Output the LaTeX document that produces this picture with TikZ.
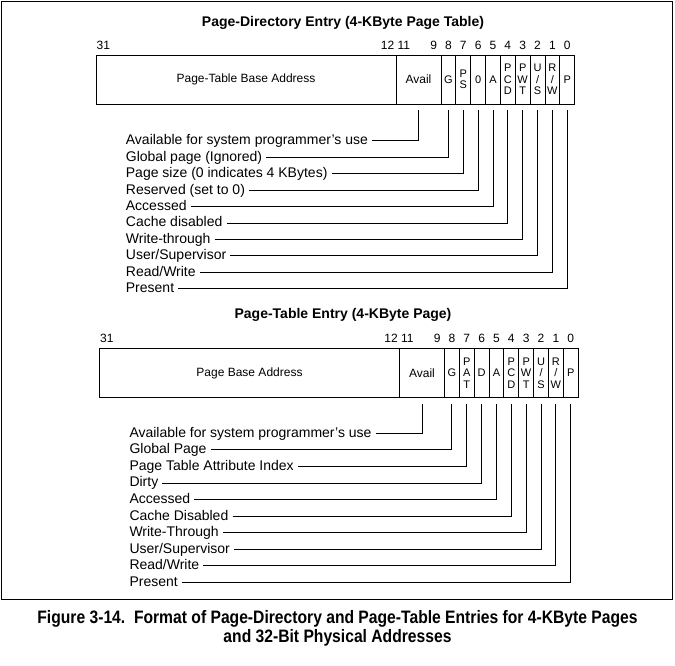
\documentclass[tikz,border=0pt]{standalone}
\usepackage{fontspec}
\setmainfont{Liberation Sans}
\newfontfamily\capfont[FakeStretch=0.87]{Liberation Sans}
\usetikzlibrary{positioning,calc}

\begin{document}
\begin{tikzpicture}[
    x=1pt, y=-1pt,
    field/.style={draw, line width=0.9pt, minimum height=49pt, outer sep=0pt, inner sep=0.5pt, align=center, font=\fontsize{12}{12}\selectfont},
    bitbox/.style={field, minimum width=14.85pt, font=\fontsize{11}{11.5}\selectfont},
    bitnum/.style={anchor=base, inner sep=0.5pt, font=\fontsize{12}{12}\selectfont},
    labl/.style={anchor=west, inner xsep=4pt, inner ysep=0pt, text height=10pt, text depth=2pt, font=\fontsize{14}{14}\selectfont},
    leader/.style={line width=0.9pt},
    title/.style={font=\fontsize{14}{14}\selectfont\bfseries},
    caption/.style={align=center, font=\capfont\fontsize{18}{19}\selectfont\bfseries}
]
\useasboundingbox (0,0) rectangle (675,665);

% Outer frame
\draw[line width=1.2pt] (1.5,1.5) rectangle (672.5,599.5);

% Page-directory entry
\node[title] (pde-title) at (343,23) {Page-Directory Entry (4-KByte Page Table)};
\node[field, minimum width=300pt, anchor=north west] (pde-base) at (96,55) {Page-Table Base Address};
\node[field, minimum width=45pt, right=0pt of pde-base] (pde-avail) {Avail};
\foreach \n/\t [remember=\n as \prev (initially avail)] in {g/G, ps/{P\\S}, z/0, a/A, pcd/{P\\C\\D}, pwt/{P\\W\\T}, us/{U\\/\\S}, rw/{R\\/\\W}, p/P}
    \node[bitbox, right=0pt of pde-\prev] (pde-\n) {\t};

% Bit numbers
\node[bitnum, anchor=base west] (pde-b31) at ([yshift=6pt]pde-base.north west) {31};
\node[bitnum, anchor=base east] (pde-b12) at ([yshift=6pt, xshift=-1pt]pde-base.north east) {12};
\node[bitnum, anchor=base west] (pde-b11) at ([yshift=6pt, xshift=1pt]pde-avail.north west) {11};
\node[bitnum] (pde-b9) at ([yshift=6pt, xshift=-7.4pt]pde-avail.north east) {9};
\foreach \n/\b in {g/8, ps/7, z/6, a/5, pcd/4, pwt/3, us/2, rw/1, p/0}
    \node[bitnum] (pde-b\b) at ([yshift=6pt]pde-\n.north) {\b};

% Field descriptions
\foreach \n/\t [count=\i from 0] in {avail/{Available for system programmer’s use}, g/{Global page (Ignored)}, ps/{Page size (0 indicates 4 KBytes)}, z/{Reserved (set to 0)}, a/Accessed, pcd/{Cache disabled}, pwt/Write-through, us/{User/Supervisor}, rw/{Read/Write}, p/Present} {
    \node[labl] (pde-l\n) at (121.7, {140.7+16.45*\i}) {\t};
    \draw[leader] (pde-l\n.east) -| ([yshift=-6pt]pde-\n.south);
}

% Page-table entry
\node[title] (pte-title) at (343,315) {Page-Table Entry (4-KByte Page)};
\node[field, minimum width=300pt, anchor=north west] (pte-base) at (99.5,348.5) {Page Base Address};
\node[field, minimum width=45pt, right=0pt of pte-base] (pte-avail) {Avail};
\foreach \n/\t [remember=\n as \prev (initially avail)] in {g/G, pat/{P\\A\\T}, d/D, a/A, pcd/{P\\C\\D}, pwt/{P\\W\\T}, us/{U\\/\\S}, rw/{R\\/\\W}, p/P}
    \node[bitbox, right=0pt of pte-\prev] (pte-\n) {\t};

% Bit numbers
\node[bitnum, anchor=base west] (pte-b31) at ([yshift=6pt]pte-base.north west) {31};
\node[bitnum, anchor=base east] (pte-b12) at ([yshift=6pt, xshift=-1pt]pte-base.north east) {12};
\node[bitnum, anchor=base west] (pte-b11) at ([yshift=6pt, xshift=1pt]pte-avail.north west) {11};
\node[bitnum] (pte-b9) at ([yshift=6pt, xshift=-7.4pt]pte-avail.north east) {9};
\foreach \n/\b in {g/8, pat/7, d/6, a/5, pcd/4, pwt/3, us/2, rw/1, p/0}
    \node[bitnum] (pte-b\b) at ([yshift=6pt]pte-\n.north) {\b};

% Field descriptions
\foreach \n/\t [count=\i from 0] in {avail/{Available for system programmer’s use}, g/{Global Page}, pat/{Page Table Attribute Index}, d/Dirty, a/Accessed, pcd/{Cache Disabled}, pwt/Write-Through, us/{User/Supervisor}, rw/{Read/Write}, p/Present} {
    \node[labl] (pte-l\n) at (125.3, {433.3+16.55*\i}) {\t};
    \draw[leader] (pte-l\n.east) -| ([yshift=-6pt]pte-\n.south);
}

% Caption
\node[caption] (caption) at (337.5,628.5) {Figure 3-14.\ \ Format of Page-Directory and Page-Table Entries for 4-KByte Pages\\and 32-Bit Physical Addresses};

\end{tikzpicture}
\end{document}
